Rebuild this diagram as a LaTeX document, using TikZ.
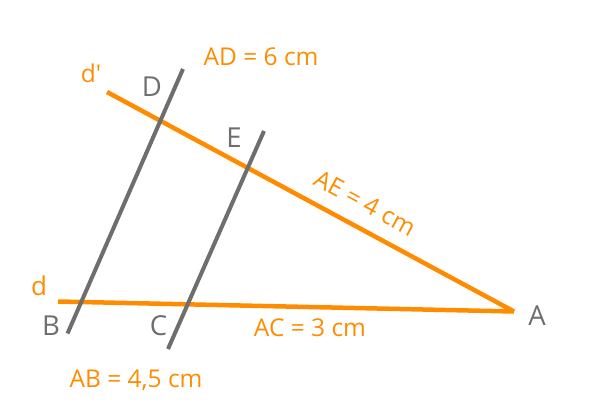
\documentclass[tikz,border=0pt]{standalone}
\usepackage{fontspec}
\setmainfont{Open Sans}
\newfontfamily\rawf{Open Sans}
\definecolor{org}{RGB}{255,140,0}
\definecolor{gry}{RGB}{110,110,110}
\begin{document}
\begin{tikzpicture}[x=1pt,y=-1pt,
  oline/.style={draw=org,line width=4.5pt},
  gline/.style={draw=gry,line width=4pt},
  olab/.style={text=org,font=\fontsize{24.5}{28}\selectfont,inner sep=0pt,anchor=base},
  glab/.style={text=gry,font=\fontsize{27.5}{30}\selectfont,inner sep=0pt,anchor=base}]
\useasboundingbox (0,0) rectangle (600,420);
\coordinate (A) at (514,311.5);
\coordinate (dp) at (107,92);
\coordinate (dd) at (58,301.5);
\coordinate (Bb) at (67.5,333.5);
\coordinate (Dt) at (183,69);
\coordinate (Cb) at (168,349);
\coordinate (Et) at (264,131);
\draw[oline] (dp) -- (A);
\draw[oline] (dd) -- (A);
\draw[gline] (Bb) -- (Dt);
\draw[gline] (Cb) -- (Et);
\node[olab] (ldp) at (91,83) {\rawf d'};
\node[glab] (lD) at (152,96) {D};
\node[olab] (lAD) at (261,66) {AD = 6 cm};
\node[glab] (lE) at (234,147) {E};
\node[olab,anchor=center,rotate=-28.4] (lAE) at (365,203) {AE = 4 cm};
\node[glab] (lA) at (537,325) {A};
\node[olab,font=\fontsize{26}{30}\selectfont] (ld) at (39,295) {d};
\node[glab] (lB) at (51,335) {B};
\node[glab] (lC) at (158.5,335) {C};
\node[olab] (lAC) at (310,336) {AC = 3 cm};
\node[olab] (lAB) at (136,387) {AB = 4,5 cm};
\end{tikzpicture}
\end{document}
